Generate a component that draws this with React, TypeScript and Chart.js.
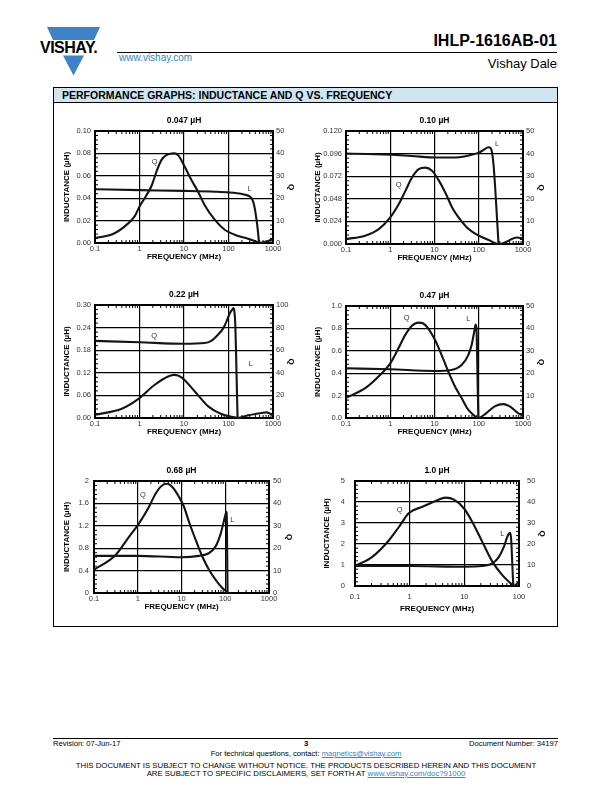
import React, { useEffect, useRef } from 'react';
import { Chart, registerables } from 'chart.js';
Chart.register(...registerables);

const FONT = "'Liberation Sans', Arial, Helvetica, sans-serif";

// ---------- tick values / labels ----------
const X_TICKS_4DEC = [0.1, 1, 10, 100, 1000];
const X_LABELS_4DEC = ['0.1', '1', '10', '100', '1000'];
const X_TICKS_3DEC = [0.1, 1, 10, 100];
const X_LABELS_3DEC = ['0.1', '1', '10', '100'];
const Q_TICKS_50 = [0, 10, 20, 30, 40, 50];
const Q_LABELS_50 = ['0', '10', '20', '30', '40', '50'];
const Q_TICKS_100 = [0, 20, 40, 60, 80, 100];
const Q_LABELS_100 = ['0', '20', '40', '60', '80', '100'];
const L_TICKS_047 = [0, 0.02, 0.04, 0.06, 0.08, 0.1];
const L_LABELS_047 = ['0.00', '0.02', '0.04', '0.06', '0.08', '0.10'];
const L_TICKS_10 = [0, 0.024, 0.048, 0.072, 0.096, 0.12];
const L_LABELS_10 = ['0.000', '0.024', '0.048', '0.072', '0.096', '0.120'];
const L_TICKS_22 = [0, 0.06, 0.12, 0.18, 0.24, 0.3];
const L_LABELS_22 = ['0.00', '0.06', '0.12', '0.18', '0.24', '0.30'];
const L_TICKS_47 = [0, 0.2, 0.4, 0.6, 0.8, 1.0];
const L_LABELS_47 = ['0.0', '0.2', '0.4', '0.6', '0.8', '1.0'];
const L_TICKS_68 = [0, 0.4, 0.8, 1.2, 1.6, 2];
const L_LABELS_68 = ['0', '0.4', '0.8', '1.2', '1.6', '2'];
const L_TICKS_100 = [0, 1, 2, 3, 4, 5];
const L_LABELS_100 = ['0', '1', '2', '3', '4', '5'];

// ---------- 0.047 µH ----------
const F_L047 = [0.1, 1, 10, 50, 100, 200, 280, 330, 365, 395, 425, 455, 485];
const L047 = [0.048, 0.0472, 0.0465, 0.0458, 0.0452, 0.0438, 0.0422, 0.04, 0.036, 0.0296, 0.021, 0.0118, 0];
const F_Q047 = [0.1, 0.26, 0.51, 0.79, 1, 1.4, 1.9, 2.4, 3.1, 4.0, 5.2, 6.2, 7.6, 10.4, 14.7, 20.7, 29, 49, 82, 138, 275, 400, 520, 700, 1000];
const Q047 = [2.2, 4.1, 8.1, 12.1, 16.3, 21, 25.9, 31.8, 37, 39.2, 39.9, 40, 38.9, 34, 28.1, 22.9, 17, 10.4, 5.9, 3.7, 1.9, 0.8, 0.05, 0.6, 1.8];

// ---------- 0.10 µH ----------
const F_L10 = [0.1, 0.3, 1, 3, 12, 30, 50, 75, 100, 130, 165, 185, 200, 215, 235, 258, 280];
const L10 = [0.096, 0.0955, 0.0949, 0.0935, 0.0918, 0.0918, 0.0932, 0.0952, 0.097, 0.1, 0.1028, 0.102, 0.097, 0.085, 0.06, 0.028, 0];
const F_Q10 = [0.1, 0.27, 0.55, 1, 1.55, 2.2, 3.1, 4.4, 6.2, 8.8, 12, 17.5, 25, 35, 59, 100, 168, 280, 395, 560, 730, 1000];
const Q10 = [2.2, 3.7, 6.6, 11.8, 17.6, 23.5, 29.4, 33.1, 33.8, 32.4, 28.7, 22.8, 16.2, 11.8, 6.6, 3.7, 1.8, 0, 0.7, 2.2, 2.9, 2.5];

// ---------- 0.22 µH ----------
const F_L22 = [0.1, 1, 10, 29, 41, 58, 76, 90, 107, 120, 128, 135, 142, 148, 154, 160];
const L22 = [0.2047, 0.201, 0.197, 0.199, 0.205, 0.221, 0.238, 0.256, 0.278, 0.287, 0.292, 0.285, 0.25, 0.17, 0.08, 0];
const F_Q22 = [0.1, 0.4, 1, 2.2, 4.4, 6.2, 8.8, 17.5, 35, 69, 137, 160, 275, 550, 720, 1000];
const Q22 = [2.9, 8.2, 17.6, 29.4, 36.8, 38.2, 35.9, 23.5, 10.3, 3.5, 0.6, 0, 2.4, 4.4, 5, 2.4];

// ---------- 0.47 µH ----------
const F_L47 = [0.1, 1, 10, 24, 41, 58, 69, 79, 85, 89, 92, 95, 98];
const L47 = [0.444, 0.435, 0.42, 0.429, 0.473, 0.562, 0.651, 0.77, 0.835, 0.8, 0.55, 0.25, 0];
const F_Q47 = [0.1, 0.272, 0.543, 1.0, 1.53, 2.17, 3.06, 4.32, 5.6, 7.26, 10.3, 14.5, 20.5, 29, 41, 57.8, 74.9, 97, 149, 230, 355, 501, 771, 1000];
const Q47 = [9, 13.3, 18.5, 24.4, 31.1, 37, 41.1, 42.6, 42.2, 39.9, 34.8, 28.1, 20.7, 14.1, 8.9, 3.7, 1.5, 0, 2.2, 5.2, 6.2, 5.2, 2.2, 1.2];

// ---------- 0.68 µH ----------
const F_L68 = [0.1, 1, 10, 25, 42, 60, 79, 94, 101, 106, 109, 111, 113];
const L68 = [0.663, 0.663, 0.639, 0.663, 0.71, 0.83, 1.065, 1.3, 1.4, 1.45, 1.3, 0.6, 0];
const F_Q68 = [0.1, 0.313, 0.63, 1.07, 1.81, 2.57, 3.65, 4.75, 6.17, 8.77, 11.4, 14.8, 21.1, 29.9, 42.5, 60.4, 85.8, 112];
const Q68 = [10.4, 17, 25.1, 31.1, 38.5, 44.4, 48.1, 48.8, 47.3, 42.9, 38.5, 31.8, 23.7, 16.3, 10.4, 5.9, 2.2, 0.3];

// ---------- 1.0 µH ----------
const F_L100 = [0.1, 1, 10, 21, 32.5, 43, 53, 61, 66, 69, 72, 75, 78.5];
const L100 = [0.95, 0.95, 0.92, 0.95, 1.08, 1.39, 1.87, 2.34, 2.5, 2.53, 2.2, 1.2, 0];
const F_Q100 = [0.1, 0.207, 0.419, 0.638, 0.97, 1.71, 2.99, 4.56, 6.48, 9.87, 14, 21.3, 32.5, 49.5, 70.5, 81, 100];
const Q100 = [9.5, 13.9, 21.8, 28.2, 34.8, 37.7, 40.5, 42.1, 41.1, 36.9, 30.5, 21, 11.6, 5.2, 1.3, 0, 2];

type Note = { t: string; f: number; v: number };
type Spec = {
  title: string;
  left: number; top: number; w: number; h: number;
  xTicks: number[]; xLabels: string[];
  yTicks: number[]; yLabels: string[];
  qTicks: number[]; qLabels: string[];
  lF: number[]; lV: number[]; qF: number[]; qV: number[];
  notes: Note[];
  padL?: number; padR?: number; padB?: number;
  xPad?: number; yPad?: number; qPad?: number;
};

const SPECS: Spec[] = [
  {
    title: '0.047 µH', left: 95, top: 131, w: 178, h: 112,
    xTicks: X_TICKS_4DEC, xLabels: X_LABELS_4DEC, yTicks: L_TICKS_047, yLabels: L_LABELS_047,
    qTicks: Q_TICKS_50, qLabels: Q_LABELS_50, lF: F_L047, lV: L047, qF: F_Q047, qV: Q047,
    notes: [{ t: 'Q', f: 2.2, v: 0.0725 }, { t: 'L', f: 300, v: 0.048 }],
  },
  {
    title: '0.10 µH', left: 346, top: 130.5, w: 177, h: 113,
    xTicks: X_TICKS_4DEC, xLabels: X_LABELS_4DEC, yTicks: L_TICKS_10, yLabels: L_LABELS_10,
    qTicks: Q_TICKS_50, qLabels: Q_LABELS_50, lF: F_L10, lV: L10, qF: F_Q10, qV: Q10,
    notes: [{ t: 'Q', f: 1.55, v: 0.0628 }, { t: 'L', f: 258, v: 0.106 }],
  },
  {
    title: '0.22 µH', left: 95, top: 305, w: 178, h: 113,
    xTicks: X_TICKS_4DEC, xLabels: X_LABELS_4DEC, yTicks: L_TICKS_22, yLabels: L_LABELS_22,
    qTicks: Q_TICKS_100, qLabels: Q_LABELS_100, lF: F_L22, lV: L22, qF: F_Q22, qV: Q22,
    notes: [{ t: 'Q', f: 2.14, v: 0.219 }, { t: 'L', f: 316, v: 0.143 }],
  },
  {
    title: '0.47 µH', left: 346, top: 305.5, w: 177, h: 112.5,
    xTicks: X_TICKS_4DEC, xLabels: X_LABELS_4DEC, yTicks: L_TICKS_47, yLabels: L_LABELS_47,
    qTicks: Q_TICKS_50, qLabels: Q_LABELS_50, lF: F_L47, lV: L47, qF: F_Q47, qV: Q47,
    notes: [{ t: 'Q', f: 2.36, v: 0.893 }, { t: 'L', f: 57.8, v: 0.888 }],
  },
  {
    title: '0.68 µH', left: 93.5, top: 481, w: 175, h: 112,
    xTicks: X_TICKS_4DEC, xLabels: X_LABELS_4DEC, yTicks: L_TICKS_68, yLabels: L_LABELS_68,
    qTicks: Q_TICKS_50, qLabels: Q_LABELS_50, lF: F_L68, lV: L68, qF: F_Q68, qV: Q68,
    notes: [{ t: 'Q', f: 1.32, v: 1.757 }, { t: 'L', f: 145, v: 1.3 }],
    padL: 32, padR: 25, yPad: 5, qPad: 4,
  },
  {
    title: '1.0 µH', left: 354.5, top: 481, w: 164, h: 105,
    xTicks: X_TICKS_3DEC, xLabels: X_LABELS_3DEC, yTicks: L_TICKS_100, yLabels: L_LABELS_100,
    qTicks: Q_TICKS_50, qLabels: Q_LABELS_50, lF: F_L100, lV: L100, qF: F_Q100, qV: Q100,
    notes: [{ t: 'Q', f: 0.656, v: 3.64 }, { t: 'L', f: 49.5, v: 2.5 }],
    padL: 33, padR: 28, padB: 28, xPad: 6, yPad: 10, qPad: 8,
  },
];

const PAD_T = 18;

function PerfChart({ s }: { s: Spec }) {
  const ref = useRef<HTMLCanvasElement>(null);
  const padL = s.padL ?? 33;
  const padR = s.padR ?? 23;
  const padB = s.padB ?? 19;
  const W = s.w + padL + padR;
  const H = s.h + PAD_T + padB;

  useEffect(() => {
    const tickFont = { family: FONT, size: 7.5 };
    const titleFont = { family: FONT, size: 8, weight: 'bold' as const, lineHeight: '10px' };
    const decor = {
      id: 'decor',
      beforeDatasetsDraw(chart: any) {
        const { ctx, chartArea: a, scales } = chart;
        const x = scales.x, y = scales.y;
        ctx.save();
        ctx.strokeStyle = '#000';
        ctx.lineWidth = 1;
        ctx.beginPath();
        const xmax = s.xTicks[s.xTicks.length - 1];
        for (let i = 0; i < s.xTicks.length - 1; i++) {
          const d = s.xTicks[i];
          for (let k = 2; k <= 9; k++) {
            if (d * k >= xmax) continue;
            const px = x.getPixelForValue(d * k);
            ctx.moveTo(px, a.bottom); ctx.lineTo(px, a.bottom - 3);
            ctx.moveTo(px, a.top); ctx.lineTo(px, a.top + 3);
          }
        }
        for (let i = 0; i < s.yTicks.length - 1; i++) {
          const y0 = s.yTicks[i], y1 = s.yTicks[i + 1];
          for (let j = 1; j < 5; j++) {
            const py = y.getPixelForValue(y0 + ((y1 - y0) * j) / 5);
            ctx.moveTo(a.left, py); ctx.lineTo(a.left + 3, py);
            ctx.moveTo(a.right, py); ctx.lineTo(a.right - 3, py);
          }
        }
        ctx.stroke();
        ctx.lineWidth = 2;
        ctx.strokeRect(a.left, a.top, a.right - a.left, a.bottom - a.top);
        ctx.restore();
      },
      afterDatasetsDraw(chart: any) {
        const { ctx, scales } = chart;
        ctx.save();
        ctx.fillStyle = '#333';
        ctx.font = `7.5px ${FONT}`;
        ctx.textAlign = 'center';
        ctx.textBaseline = 'middle';
        for (const n of s.notes) {
          ctx.fillText(n.t, scales.x.getPixelForValue(n.f), scales.y.getPixelForValue(n.v));
        }
        ctx.restore();
      },
    };
    const line = {
      borderColor: '#141414', borderWidth: 2.1, pointRadius: 0,
      cubicInterpolationMode: 'monotone' as const, clip: 3, fill: false,
    };
    const chart = new Chart(ref.current as HTMLCanvasElement, {
      type: 'line',
      data: {
        datasets: [
          { ...line, data: s.lF.map((f, i) => ({ x: f, y: s.lV[i] })), yAxisID: 'y' },
          { ...line, data: s.qF.map((f, i) => ({ x: f, y: s.qV[i] })), yAxisID: 'q' },
        ],
      },
      options: {
        responsive: false,
        maintainAspectRatio: false,
        animation: false,
        events: [],
        layout: { padding: 0 },
        plugins: {
          legend: { display: false },
          tooltip: { enabled: false },
          title: {
            display: true, text: s.title, fullSize: false, color: '#000',
            font: { family: FONT, size: 8.5, weight: 'bold', lineHeight: '10px' },
            padding: { top: 3, bottom: 5 },
          },
        },
        scales: {
          x: {
            type: 'logarithmic',
            min: s.xTicks[0], max: s.xTicks[s.xTicks.length - 1],
            afterBuildTicks: (sc: any) => { sc.ticks = s.xTicks.map((v) => ({ value: v })); },
            afterFit: (sc: any) => { sc.height = padB; },
            ticks: {
              callback: (_v: any, i: number) => s.xLabels[i],
              font: tickFont, color: '#333', padding: s.xPad ?? 1.5,
              maxRotation: 0, autoSkip: false,
            },
            grid: { color: '#000', lineWidth: 1.2, drawTicks: false },
            border: { display: false },
            title: { display: true, text: 'FREQUENCY (MHz)', color: '#000', font: titleFont, padding: 0 },
          },
          y: {
            type: 'linear', position: 'left',
            min: s.yTicks[0], max: s.yTicks[s.yTicks.length - 1],
            afterBuildTicks: (sc: any) => { sc.ticks = s.yTicks.map((v) => ({ value: v })); },
            afterFit: (sc: any) => { sc.width = padL; },
            ticks: {
              callback: (_v: any, i: number) => s.yLabels[i],
              font: tickFont, color: '#333', padding: s.yPad ?? 4, autoSkip: false,
            },
            grid: { color: '#000', lineWidth: 1.2, drawTicks: false },
            border: { display: false },
            title: { display: true, text: 'INDUCTANCE (µH)', color: '#000', font: titleFont, padding: 0 },
          },
          q: {
            type: 'linear', position: 'right',
            min: s.qTicks[0], max: s.qTicks[s.qTicks.length - 1],
            afterBuildTicks: (sc: any) => { sc.ticks = s.qTicks.map((v) => ({ value: v })); },
            afterFit: (sc: any) => { sc.width = padR; },
            ticks: {
              callback: (_v: any, i: number) => s.qLabels[i],
              font: tickFont, color: '#333', padding: s.qPad ?? 3, autoSkip: false,
            },
            grid: { drawOnChartArea: false, drawTicks: false },
            border: { display: false },
            title: { display: true, text: 'Q', color: '#000', font: titleFont, padding: 0 },
          },
        },
      } as any,
      plugins: [decor],
    });
    return () => chart.destroy();
  }, []);

  return (
    <canvas
      ref={ref}
      width={W}
      height={H}
      style={{ position: 'absolute', left: s.left - padL, top: s.top - PAD_T, width: W, height: H }}
    />
  );
}

const abs = (o: React.CSSProperties): React.CSSProperties => ({ position: 'absolute', whiteSpace: 'nowrap', ...o });

export default function App() {
  const blue = '#2f86c9';
  return (
    <div style={{ position: 'absolute', left: 0, top: 0, width: 612, height: 792, background: '#fff', fontFamily: FONT, color: '#000', overflow: 'hidden' }}>
      {/* logo */}
      <svg width={70} height={56} style={{ position: 'absolute', left: 38, top: 24 }} viewBox="38 24 70 56">
        <polygon points="47,27 100,27 94,40 53,40" fill="#3f82c8" />
        <polygon points="63,55.5 84,55.5 73.5,75.5" fill="#3f82c8" />
      </svg>
      <div style={abs({ left: 40, top: 39.5, fontSize: 16, lineHeight: '16px', fontWeight: 'bold', letterSpacing: -0.5 })}>VISHAY.</div>

      <div style={abs({ left: 117, top: 51.5, width: 440, height: 0, borderTop: '1.2px solid #000' })} />
      <div style={abs({ left: 119, top: 52.5, fontSize: 10, lineHeight: '10px', color: blue })}>www.vishay.com</div>
      <div style={abs({ right: 55, top: 33, fontSize: 16, lineHeight: '16px', fontWeight: 'bold' })}>IHLP-1616AB-01</div>
      <div style={abs({ right: 55, top: 56.5, fontSize: 13, lineHeight: '13px' })}>Vishay Dale</div>

      {/* box */}
      <div style={abs({ left: 53, top: 87, width: 505, height: 540, border: '1px solid #000', boxSizing: 'border-box' })}>
        <div style={{ height: 14, background: '#d0e5f2', borderBottom: '1px solid #000', fontSize: 10.5, lineHeight: '14px', fontWeight: 'bold', paddingLeft: 8, whiteSpace: 'nowrap' }}>
          PERFORMANCE GRAPHS: INDUCTANCE AND Q VS. FREQUENCY
        </div>
      </div>

      {SPECS.map((s, i) => (
        <PerfChart key={i} s={s} />
      ))}

      {/* footer */}
      <div style={abs({ left: 53, top: 737.5, width: 505, height: 0, borderTop: '1px solid #000' })} />
      <div style={abs({ left: 53, top: 739.5, fontSize: 7.6, lineHeight: '8px' })}>Revision: 07-Jun-17</div>
      <div style={abs({ left: 0, width: 612, textAlign: 'center', top: 739.5, fontSize: 7.6, lineHeight: '8px', fontWeight: 'bold' })}>3</div>
      <div style={abs({ right: 54, top: 739.5, fontSize: 7.6, lineHeight: '8px' })}>Document Number: 34197</div>
      <div style={abs({ left: 0, width: 612, textAlign: 'center', top: 750, fontSize: 7.6, lineHeight: '8px' })}>
        For technical questions, contact: <span style={{ color: blue, textDecoration: 'underline' }}>magnetics@vishay.com</span>
      </div>
      <div style={abs({ left: 0, width: 612, textAlign: 'center', top: 762, fontSize: 7.8, lineHeight: '8px' })}>
        THIS DOCUMENT IS SUBJECT TO CHANGE WITHOUT NOTICE. THE PRODUCTS DESCRIBED HEREIN AND THIS DOCUMENT
      </div>
      <div style={abs({ left: 0, width: 612, textAlign: 'center', top: 770, fontSize: 7.8, lineHeight: '8px' })}>
        ARE SUBJECT TO SPECIFIC DISCLAIMERS, SET FORTH AT <span style={{ color: blue, textDecoration: 'underline' }}>www.vishay.com/doc?91000</span>
      </div>
    </div>
  );
}
